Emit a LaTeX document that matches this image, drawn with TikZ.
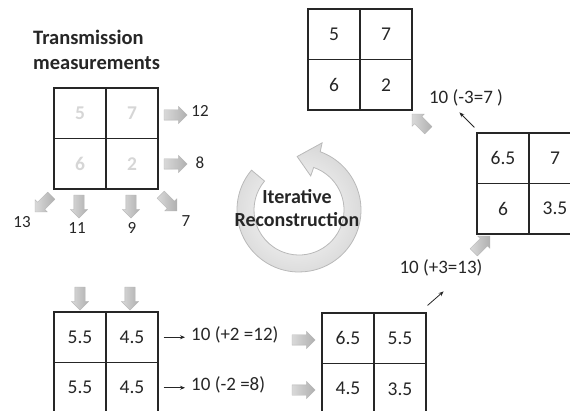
\documentclass[tikz,border=0pt]{standalone}
\usepackage{fontspec}
\setmainfont{Carlito}
\usetikzlibrary{shapes.arrows,arrows.meta}

\tikzset{
  cell/.style={draw=black!85, line width=1.1pt, minimum width=52pt, minimum height=50.5pt,
    inner sep=0pt, font=\fontsize{19.5}{22}\selectfont, text=black!85},
  ghost/.style={cell, text=gray!32, font=\fontsize{19.5}{22}\selectfont\bfseries},
  fat/.style={single arrow, inner xsep=0pt, inner ysep=5pt, minimum height=23pt,
    single arrow head extend=3.5pt, draw=gray!60, line width=0.3pt,
    left color=gray!30, right color=gray!62},
  meas/.style={font=\fontsize{17}{19}\selectfont, text=black!85, inner sep=0pt},
  calc/.style={font=\fontsize{19}{22}\selectfont, text=black!85, inner sep=0pt},
  thin/.style={line width=0.8pt, -{Stealth[length=5pt,width=4pt]}, draw=black!85},
  ring/.style={inner color=white, outer color=gray!30, draw=gray!55, line width=0.8pt},
}

% 2x2 grid: #1 style, #2 name, #3/#4 top-left corner, #5-#8 cell texts
\newcommand\quadgrid[8]{%
  \node[#1] (#2-a) at (#3+26,#4+25.25) {#5};
  \node[#1] (#2-b) at (#3+78,#4+25.25) {#6};
  \node[#1] (#2-c) at (#3+26,#4+75.75) {#7};
  \node[#1] (#2-d) at (#3+78,#4+75.75) {#8};
}

\begin{document}
\begin{tikzpicture}[x=1pt,y=-1pt]
\useasboundingbox (0,0) rectangle (570,411);
\clip (0,0) rectangle (570,411);

% heading
\node[anchor=west, align=left, inner sep=0pt, text=black!85,
      font=\fontsize{20.5}{25}\selectfont\bfseries] (title) at (33,50)
      {Transmission\\measurements};

% measured object with its projections
\quadgrid{ghost}{obj}{54}{88}{5}{7}{6}{2}
\node[fat] (p1) at (173,115) {};
\node[fat] (p2) at (173,164) {};
\node[fat, rotate=-135] (p3) at (45,202) {};
\node[fat, rotate=-90] (p4) at (79,204) {};
\node[fat, rotate=-90] (p5) at (131,204) {};
\node[fat, rotate=-45] (p6) at (167,201) {};
\node[meas] (m12) at (200,111) {12};
\node[meas] (m8) at (200,163) {8};
\node[meas] (m13) at (22,222) {13};
\node[meas] (m11) at (77,228) {11};
\node[meas] (m9) at (132,228) {9};
\node[meas] (m7) at (186,221) {7};

% iteration symbol
\begin{scope}[shift={(299,210)}, yscale=-1]
  \path[ring] (140:62) arc[start angle=140, end angle=430, radius=62]
    -- (71:71) -- (92:53.5) -- (71:36) -- (71:45)
    arc[start angle=431, end angle=140, radius=45] -- cycle;
\end{scope}
\node[align=center, inner sep=0pt, text=black!85,
      font=\fontsize{20}{23}\selectfont\bfseries] (iter) at (297,208)
      {Iterative\\Reconstruction};

% first estimate
\node[fat, rotate=-90] (d1) at (80,296) {};
\node[fat, rotate=-90] (d2) at (130,296) {};
\quadgrid{cell}{g1}{54}{312}{5.5}{4.5}{5.5}{4.5}
\node[calc, anchor=west] (r1) at (191,335) {10 (+2 =12)};
\node[calc, anchor=west] (r2) at (191,385) {10 (-2 =8)};
\draw[thin, shorten <=5pt, shorten >=6pt] (g1-b.east) -- (g1-b.east -| r1.west);
\draw[thin, shorten <=5pt, shorten >=6pt] (g1-d.east) -- (g1-d.east -| r2.west);
\node[fat] (f1) at (301,340) {};
\node[fat] (f2) at (301,390) {};

% after row correction
\quadgrid{cell}{g2}{322}{313}{6.5}{5.5}{4.5}{3.5}
\node[calc] (c1) at (441,268) {10 (+3=13)};
\draw[thin] ([xshift=1pt,yshift=7pt]g2-b.north east) -- ([xshift=17pt,yshift=21pt]g2-b.north east);
\node[fat, rotate=45] (f3) at (480,246) {};

% after diagonal correction
\quadgrid{cell}{g3}{477}{133}{6.5}{7}{6}{3.5}
\node[calc] (c2) at (466,98) {10 (-3=7 )};
\draw[thin] ([xshift=-2pt,yshift=5pt]g3-a.north west) -- ([xshift=-17pt,yshift=20pt]g3-a.north west);
\node[fat, rotate=135] (f4) at (422,124) {};

% reconstructed object
\quadgrid{cell}{g4}{308}{9}{5}{7}{6}{2}
\end{tikzpicture}
\end{document}
